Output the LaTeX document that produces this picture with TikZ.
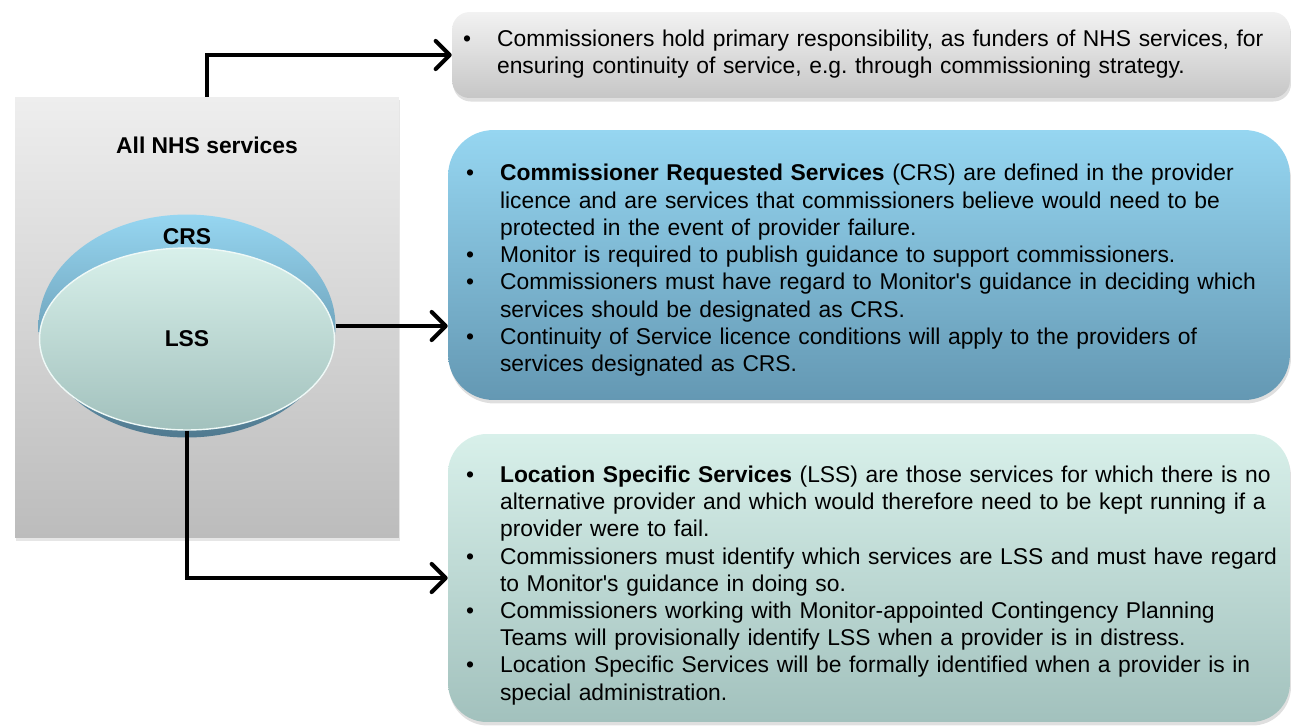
\documentclass[tikz,border=0pt]{standalone}
\usepackage{fontspec}
\setmainfont{Liberation Sans}
\usetikzlibrary{shapes.geometric,shadows,arrows.meta,positioning}

\definecolor{crsTop}{HTML}{96D6F1}
\definecolor{crsBot}{HTML}{6498B3}
\definecolor{lssTop}{HTML}{D8F0EA}
\definecolor{lssBot}{HTML}{A2C1BD}
\definecolor{greyTop}{HTML}{F2F2F2}
\definecolor{greyBot}{HTML}{C6C6C6}
\definecolor{panelTop}{HTML}{EEEEEE}
\definecolor{panelBot}{HTML}{BCBCBC}

% bullet list used inside the boxes
\newenvironment{bullets}{%
  \begin{list}{\textbullet}{%
    \setlength{\leftmargin}{0.68cm}%
    \setlength{\rightmargin}{-0.4cm}%
    \setlength{\labelsep}{0.52cm}%
    \setlength{\labelwidth}{0.16cm}%
    \setlength{\itemsep}{0pt}\setlength{\parsep}{0pt}%
    \setlength{\topsep}{0pt}\setlength{\partopsep}{0pt}}}%
  {\end{list}}
\newcommand{\q}{\textquotesingle}
\frenchspacing

\tikzset{
  infobox/.style={rounded corners=#1, minimum width=16.84cm, text width=16.12cm,
    inner xsep=0.36cm, inner ysep=0pt, align=left,
    drop shadow={opacity=0.25,shadow xshift=0.6pt,shadow yshift=-2pt}},
  link/.style={line width=2.3pt, -{Straight Barb[length=8pt,width=16pt,round]}},
  tag/.style={font=\fontsize{13}{15.5}\selectfont\bfseries, inner sep=0pt}
}

\begin{document}
\begin{tikzpicture}[x=0.02cm,y=-0.02cm,font=\fontsize{13}{15.5}\selectfont]
\useasboundingbox (0,0) rectangle (1295,727);

% left panel with the two ellipses
\node[minimum width=7.68cm, minimum height=8.82cm, inner sep=0pt,
  top color=panelTop, bottom color=panelBot,
  drop shadow={opacity=0.2,shadow xshift=0.5pt,shadow yshift=-1.5pt}] (all) at (207,317.5) {};
\node[tag, below=0.8cm of all.north] (alltag) {All NHS services};

\node[ellipse, minimum width=5.94cm, minimum height=4.46cm, inner sep=0pt,
  top color=crsTop, bottom color=crsBot!80!black] (crs) at (187,326) {};
\node[ellipse, minimum width=5.9cm, minimum height=3.64cm, inner sep=0pt,
  draw=white!60!lssTop, line width=0.8pt,
  top color=lssTop, bottom color=lssBot, font=\fontsize{13}{15.5}\selectfont\bfseries] (lss) at (187,339) {LSS};
\node[tag, below=0.28cm of crs.north] (crstag) {CRS};

% right hand boxes
\node[infobox=10pt, minimum width=16.76cm, text width=16.32cm, inner xsep=0.22cm,
  minimum height=1.72cm, top color=greyTop, bottom color=greyBot] (topbox) at (871,55) {%
  \begin{bullets}
  \item Commissioners hold primary responsibility, as funders of NHS services, for\\
  ensuring continuity of service, e.g. through commissioning strategy.
  \end{bullets}\par\vspace*{0.24cm}\hrule height 0pt};

\node[infobox=26pt, minimum height=5.4cm, top color=crsTop, bottom color=crsBot] (crsbox) at (869,265) {%
  \begin{bullets}
  \item \textbf{Commissioner Requested Services} (CRS) are defined in the provider\\
  licence and are services that commissioners believe would need to be\\
  protected in the event of provider failure.
  \item Monitor is required to publish guidance to support commissioners.
  \item Commissioners must have regard to Monitor\q s guidance in deciding which\\
  services should be designated as CRS.
  \item Continuity of Service licence conditions will apply to the providers of\\
  services designated as CRS.
  \end{bullets}};

\node[infobox=22pt, minimum height=5.76cm, top color=lssTop, bottom color=lssBot] (lssbox) at (869,578) {%
  \vspace*{0.08cm}
  \begin{bullets}
  \item \textbf{Location Specific Services} (LSS) are those services for which there is no\\
  alternative provider and which would therefore need to be kept running if a\\
  provider were to fail.
  \item Commissioners must identify which services are LSS and must have regard\\
  to Monitor\q s guidance in doing so.
  \item Commissioners working with Monitor-appointed Contingency Planning\\
  Teams will provisionally identify LSS when a provider is in distress.
  \item Location Specific Services will be formally identified when a provider is in\\
  special administration.
  \end{bullets}};

% connectors
\draw[link] (all.north) |- (topbox.west);
\draw[link] (crs.east) -- (crs.east -| crsbox.west);
\draw[link] (lss.south) |- (lssbox.west);
\end{tikzpicture}
\end{document}
